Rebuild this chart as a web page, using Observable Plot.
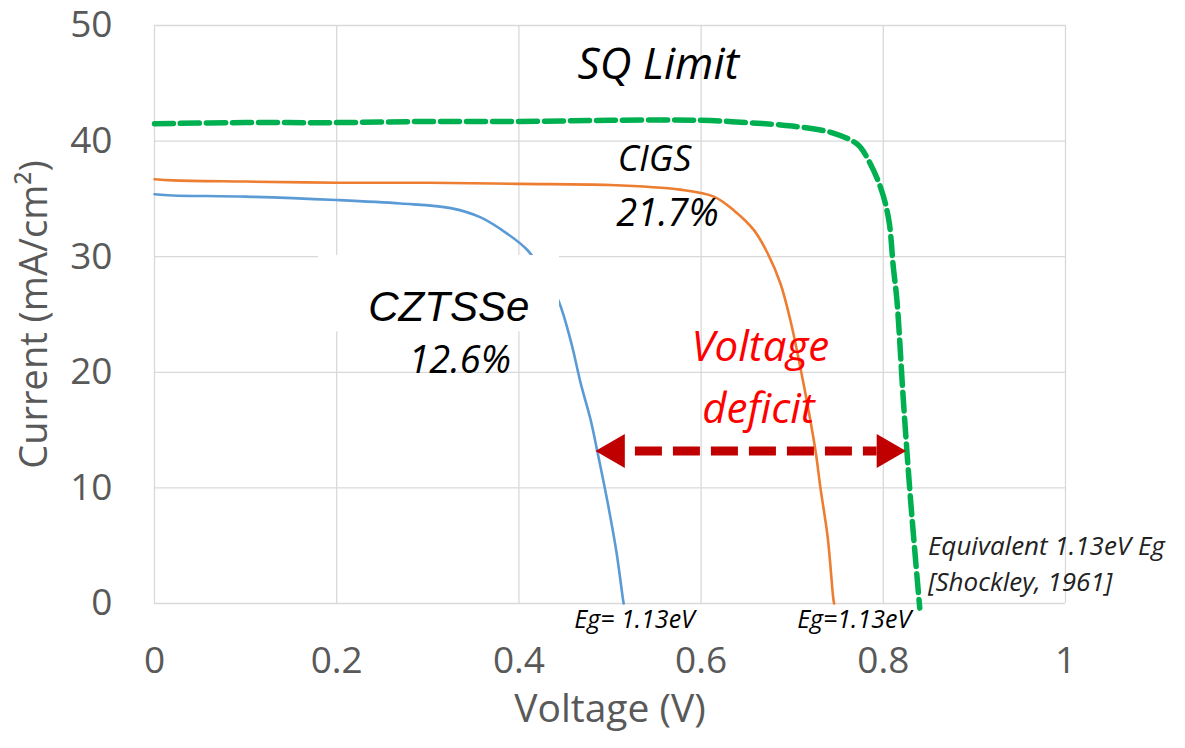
<!DOCTYPE html>
<html>
<head>
<meta charset="utf-8">
<script src="https://cdn.jsdelivr.net/npm/d3@7"></script>
<script src="https://cdn.jsdelivr.net/npm/@observablehq/plot@0.6"></script>
<style>
  html, body { margin: 0; padding: 0; background: #fff; }
</style>
</head>
<body>
<div id="chart"></div>
<script>
// ---- Data ----
const xTicks = [0, 0.2, 0.4, 0.6, 0.8, 1];
const yTicks = [0, 10, 20, 30, 40, 50];

// CZTSSe (12.6%)
const cztsseV = [0, 0.02, 0.1, 0.2, 0.27, 0.325, 0.358, 0.387, 0.409, 0.427, 0.4435, 0.457, 0.468, 0.479, 0.486, 0.497, 0.507, 0.514, 0.515];
const cztsseJ = [35.4, 35.3, 35.2, 34.9, 34.6, 34.2, 33.4, 32.0, 30.6, 28.6, 26.2, 22.7, 19.0, 15.8, 13.2, 8.9, 4.5, 0.5, 0];

// CIGS (21.7%)
const cigsV = [0, 0.02, 0.1, 0.2, 0.3, 0.4, 0.5, 0.577, 0.614, 0.636, 0.658, 0.673, 0.687, 0.698, 0.709, 0.718, 0.726, 0.731, 0.739, 0.745, 0.746];
const cigsJ = [36.7, 36.6, 36.5, 36.4, 36.4, 36.3, 36.2, 35.8, 35.2, 34.0, 32.3, 30.3, 27.7, 24.5, 20.4, 16.7, 13.0, 10.0, 5.7, 0.5, 0];

// SQ limit (1.13 eV)
const sqV = [0, 0.1, 0.2, 0.3, 0.4, 0.5, 0.6, 0.65, 0.7, 0.745, 0.772, 0.782, 0.797, 0.806, 0.811, 0.815, 0.822, 0.830, 0.840];
const sqJ = [41.5, 41.6, 41.6, 41.7, 41.7, 41.8, 41.8, 41.6, 41.3, 40.7, 39.7, 38.6, 36.0, 33.2, 29.1, 26.2, 17.6, 8.9, -0.4];

// Voltage deficit arrow (from CZTSSe curve to SQ curve)
const arrowY = 13.2;
const arrowXStart = 0.484;
const arrowXEnd = 0.825;

// White text-box backgrounds covering the grid (data units)
const maskBoxes = [
  {x1: 0.18, x2: 0.4446, y1: 23.5, y2: 30.1},
  {x1: 0.294, x2: 0.378, y1: 29.9, y2: 32.1}
];

// Annotation texts
const blackLabels = [
  {text: "SQ Limit", x: 0.553, y: 46.6, size: 44, font: "Open Sans"},
  {text: "CIGS", x: 0.549, y: 38.4, size: 36, font: "Open Sans"},
  {text: "21.7%", x: 0.563, y: 33.7, size: 38, font: "Open Sans"},
  {text: "CZTSSe", x: 0.323, y: 25.6, size: 42, font: "Liberation Sans"},
  {text: "12.6%", x: 0.335, y: 21.0, size: 38, font: "Open Sans"}
];
const redLabels = [
  {text: "Voltage", x: 0.665, y: 22.1},
  {text: "deficit", x: 0.663, y: 16.8}
];
const egLabels = [
  {text: "Eg= 1.13eV", x: 0.527, y: -1.4},
  {text: "Eg=1.13eV", x: 0.768, y: -1.4}
];
const sqNote = [
  {text: "Equivalent 1.13eV Eg\n[Shockley, 1961]", x: 0.849, y: 3.6}
];

// ---- Build tables ----
const toRows = (V, J) => V.map((v, i) => ({v, j: J[i]}));
const cztsse = toRows(cztsseV, cztsseJ);
const cigs = toRows(cigsV, cigsJ);
const sq = toRows(sqV, sqJ);

const chart = Plot.plot({
  width: 1185,
  height: 748,
  marginLeft: 154,
  marginRight: 120,
  marginTop: 25,
  marginBottom: 145,
  x: {domain: [0, 1]},
  y: {domain: [0, 50]},
  style: {fontFamily: "'Open Sans', sans-serif", color: "#595959", background: "#fff", overflow: "visible"},
  marks: [
    Plot.gridX(xTicks, {stroke: "#d9d9d9", strokeOpacity: 1, strokeWidth: 1.3}),
    Plot.gridY(yTicks, {stroke: "#d9d9d9", strokeOpacity: 1, strokeWidth: 1.3}),
    Plot.axisY(yTicks, {tickSize: 0, tickPadding: 42, fontSize: 37, label: null, fill: "#595959"}),
    Plot.axisX(xTicks, {tickSize: 0, tickPadding: 43, fontSize: 37, label: null, fill: "#595959", tickFormat: d => String(d)}),
    Plot.text(["Current (mA/cm²)"], {frameAnchor: "left", textAnchor: "middle", dx: -120, rotate: -90, fontSize: 38, fill: "#595959"}),
    Plot.text(["Voltage (V)"], {frameAnchor: "bottom", dy: 118, fontSize: 39, fill: "#595959"}),

    Plot.line(sq, {x: "v", y: "j", stroke: "#00b050", strokeWidth: 5.5, strokeDasharray: "19 7", curve: "catmull-rom"}),
    Plot.line(cigs, {x: "v", y: "j", stroke: "#ed7d31", strokeWidth: 2.6, curve: "catmull-rom"}),
    Plot.line(cztsse, {x: "v", y: "j", stroke: "#5b9bd5", strokeWidth: 2.6, curve: "catmull-rom"}),

    Plot.rect(maskBoxes, {x1: "x1", x2: "x2", y1: "y1", y2: "y2", fill: "#fff"}),

    Plot.ruleY([arrowY], {x1: arrowXStart, x2: arrowXEnd, insetLeft: 29, insetRight: 29, stroke: "#c00000", strokeWidth: 9, strokeDasharray: "27 11", strokeDashoffset: 27}),
    Plot.dot([{x: arrowXStart, y: arrowY}], {x: "x", y: "y", symbol: "triangle", r: 12.6, fill: "#c00000", stroke: "none", rotate: -90, dx: 19.6}),
    Plot.dot([{x: arrowXEnd, y: arrowY}], {x: "x", y: "y", symbol: "triangle", r: 12.6, fill: "#c00000", stroke: "none", rotate: 90, dx: -19.6}),

    ...blackLabels.map(d => Plot.text([d], {x: "x", y: "y", text: "text", fontSize: d.size, fontStyle: "italic", fontFamily: d.font, fill: "#000"})),
    Plot.text(redLabels, {x: "x", y: "y", text: "text", fontSize: 42, fontStyle: "italic", fill: "#ff0000"}),
    Plot.text(egLabels, {x: "x", y: "y", text: "text", fontSize: 25, fontStyle: "italic", fill: "#000"}),
    Plot.text(sqNote, {x: "x", y: "y", text: "text", fontSize: 26, lineHeight: 1.38, fontStyle: "italic", fill: "#222", textAnchor: "start"})
  ]
});

document.getElementById("chart").appendChild(chart);
</script>
</body>
</html>
